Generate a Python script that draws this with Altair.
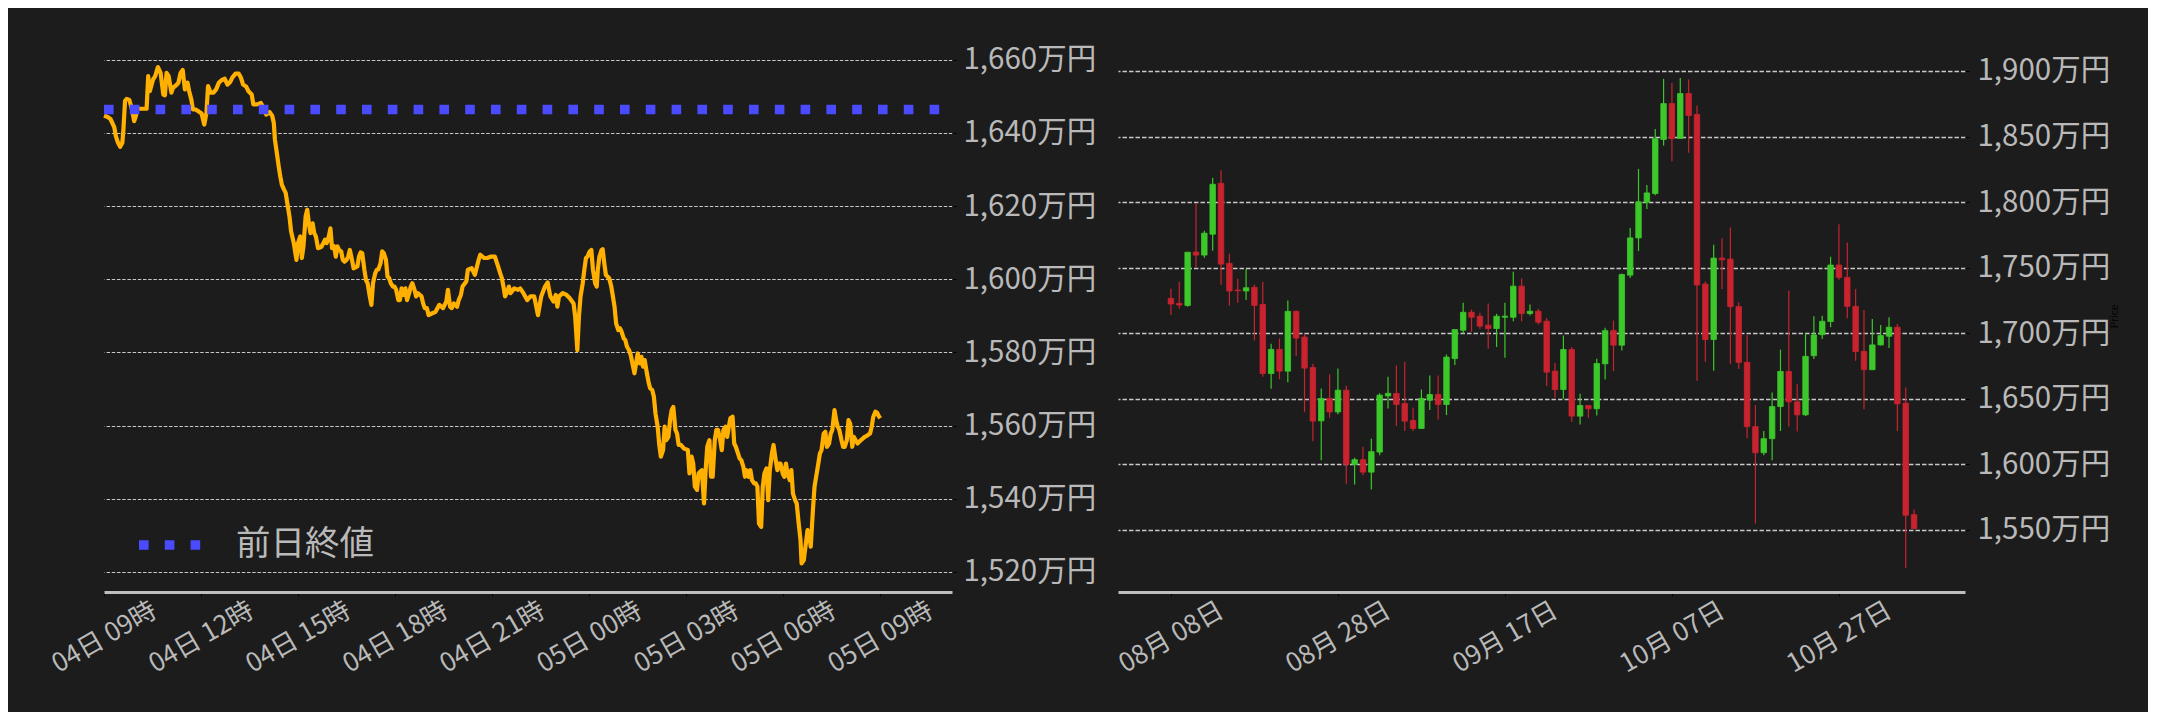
import altair as alt
import pandas as pd

FONT = "Noto Sans CJK JP"
BG = "#1c1c1c"
TXT = "#b9b9b9"

# ---------------- intraday (04日 09時 -> 05日 09時), minutes from 04日 09:00 ----------------
intraday_minutes = [
    0, 6, 12, 19, 22, 26, 30, 34, 36, 39, 42, 47, 52, 56, 59, 62, 69, 79, 82, 85, 91, 95, 100, 105, 110, 113,
    116, 120, 125, 128, 135, 138, 142, 146, 150, 155, 158, 162, 165, 170, 175, 181, 186, 190, 193, 198, 203,
    208, 213, 218, 224, 229, 234, 238, 244, 250, 254, 258, 264, 268, 274, 277, 284, 291, 295, 301, 307, 312,
    315, 317, 321, 324, 327, 330, 334, 337, 340, 344, 347, 352, 357, 360, 364, 367, 370, 374, 377, 380, 383,
    387, 390, 393, 397, 403, 407, 410, 413, 417, 420, 423, 427, 430, 433, 436, 440, 443, 446, 450, 453, 456,
    460, 463, 470, 473, 476, 479, 483, 486, 489, 493, 496, 499, 503, 506, 509, 513, 516, 519, 523, 526, 529,
    532, 536, 539, 542, 546, 549, 552, 556, 559, 562, 566, 569, 572, 576, 579, 582, 589, 592, 595, 599, 602,
    609, 615, 622, 629, 635, 638, 642, 645, 649, 655, 658, 662, 665, 672, 675, 682, 688, 695, 698, 705, 711,
    718, 725, 731, 735, 738, 741, 744, 748, 751, 754, 761, 768,
    772, 778, 785, 791, 798, 805, 811, 818, 823, 828, 834, 838, 841, 844, 851, 858, 864, 871, 874, 878, 881,
    884, 888, 891, 894, 897, 901, 904, 907, 911, 914, 916, 919, 923, 925, 928, 931, 934, 937, 941, 944, 947,
    950, 954, 957, 960, 964, 967, 970, 974, 977,
    984, 987, 990, 994, 997, 1000, 1003, 1007, 1010, 1013, 1017, 1020, 1023, 1027, 1030, 1033, 1037, 1040,
    1043, 1047, 1050, 1053, 1056, 1060, 1063, 1066, 1070, 1076, 1083, 1086, 1090, 1093, 1096, 1100, 1103,
    1106, 1109, 1113, 1116, 1119, 1123, 1126, 1129, 1133, 1136, 1139, 1143, 1146, 1149, 1153, 1156, 1159,
    1162, 1166, 1169, 1172, 1176, 1179, 1182, 1186, 1189, 1192, 1196, 1199, 1202, 1206, 1209, 1212, 1215,
    1219, 1222, 1225, 1229, 1232, 1235, 1239, 1242, 1245, 1249, 1252, 1255, 1259, 1262, 1265, 1268, 1272,
    1275, 1278, 1282, 1285, 1288, 1292, 1294, 1298, 1302, 1305, 1308, 1311, 1315, 1318, 1321, 1325, 1328,
    1331, 1335, 1338, 1341, 1345, 1348, 1351, 1355, 1358, 1361, 1364, 1368, 1371, 1374, 1378, 1381, 1384,
    1388, 1391, 1394, 1398, 1401, 1404, 1408, 1411, 1414, 1417, 1421, 1424, 1427, 1431, 1434, 1437, 1440,
]
intraday_prices = [
    1644.7, 1644.4, 1643.8, 1641.6, 1639.1, 1637.3, 1636.2, 1637.3, 1640.9, 1648.7, 1649.3, 1649.0, 1646.4,
    1643.2, 1644.6, 1646.6, 1646.6, 1646.6, 1655.5, 1651.4, 1654.6, 1655.5, 1658.0, 1656.4, 1650.5, 1650.3,
    1656.4, 1655.5, 1651.0, 1652.3, 1653.2, 1653.7, 1656.4, 1657.2, 1651.9, 1653.7, 1651.4, 1649.1, 1646.4,
    1646.4, 1645.9, 1645.3, 1642.3, 1645.5, 1652.8, 1651.0, 1651.0, 1651.9, 1653.7, 1654.4, 1654.8, 1653.2,
    1653.9, 1655.1, 1656.2, 1656.2, 1655.1, 1653.2, 1652.6, 1651.4, 1650.5, 1647.8, 1647.8, 1648.2, 1647.1,
    1645.0, 1645.7, 1644.7, 1642.7, 1638.2, 1634.1, 1630.9, 1628.1, 1625.8, 1624.5, 1623.6, 1620.8, 1617.2,
    1613.1, 1609.9, 1605.3, 1609.9, 1611.7, 1605.8, 1609.0, 1617.2, 1619.0, 1615.3, 1612.6, 1615.3, 1612.6,
    1611.7, 1608.5, 1608.8, 1609.9, 1610.8, 1609.9, 1611.7, 1613.9, 1608.5, 1609.0, 1606.2, 1609.0, 1608.0,
    1607.6, 1605.3, 1604.8, 1605.3, 1606.2, 1608.0, 1605.3, 1603.0, 1603.5, 1606.2, 1607.3, 1607.1, 1602.6,
    1599.8, 1598.9, 1595.3, 1593.0, 1598.9, 1601.6, 1602.6, 1602.7, 1604.4, 1607.6, 1607.1, 1605.3, 1600.7,
    1600.3, 1598.9, 1598.0, 1598.0, 1597.1, 1594.3, 1594.3, 1597.5, 1595.7, 1597.5, 1594.3, 1596.2, 1598.0,
    1598.9, 1597.1, 1595.3, 1596.2, 1595.3, 1593.4, 1592.1, 1592.1, 1590.2, 1590.7, 1591.1, 1593.0, 1592.1,
    1593.9, 1597.1, 1592.5, 1592.1, 1593.4, 1592.5, 1594.3, 1595.7, 1598.0, 1599.4, 1602.6, 1603.0, 1601.2,
    1605.3, 1606.7, 1605.8, 1605.8, 1606.2, 1606.2, 1603.5, 1601.6, 1600.3, 1598.0, 1595.3, 1596.6, 1598.0,
    1596.2, 1597.5, 1597.1,
    1597.5, 1596.2, 1594.3, 1595.3, 1595.3, 1590.2, 1595.3, 1598.0, 1599.1, 1595.3, 1593.9, 1595.7, 1592.5,
    1595.3, 1596.2, 1595.7, 1594.8, 1593.4, 1589.8, 1580.6, 1589.8, 1595.3, 1598.9, 1602.6, 1605.8, 1606.2,
    1607.6, 1608.0, 1602.6, 1598.9, 1598.0, 1602.6, 1606.2, 1608.0, 1608.2, 1604.4, 1601.2, 1600.7, 1600.3,
    1598.0, 1595.3, 1592.5, 1587.9, 1586.1, 1586.6, 1585.7, 1583.8, 1583.4, 1581.6, 1580.6, 1579.3,
    1574.3, 1577.0, 1579.7, 1577.0, 1578.8, 1576.1, 1577.9, 1574.3, 1572.0, 1570.2, 1569.7, 1567.9, 1563.3,
    1559.7, 1554.7, 1551.5, 1553.3, 1559.7, 1556.0, 1556.9, 1561.5, 1564.2, 1565.1, 1558.8, 1557.8, 1554.7,
    1554.7, 1553.7, 1553.3, 1546.9, 1551.5, 1549.6, 1543.3, 1542.4, 1546.9, 1547.4, 1547.8, 1538.7, 1547.8,
    1554.2, 1556.0, 1546.0, 1546.0, 1556.0, 1558.8, 1558.8, 1556.0, 1553.3, 1558.8, 1559.7, 1556.9, 1559.7,
    1562.0, 1562.4, 1555.1, 1554.2, 1552.4, 1551.0, 1550.6, 1548.7, 1546.0, 1547.8, 1546.0, 1547.8, 1545.1,
    1544.2, 1544.2, 1543.3, 1533.2, 1532.3, 1543.3, 1546.9, 1548.3, 1539.6, 1547.8, 1552.4, 1554.7, 1551.5,
    1547.8, 1549.6, 1549.6, 1546.9, 1546.0, 1549.6, 1546.9, 1545.1, 1547.8, 1541.4, 1539.6, 1538.7, 1534.1,
    1528.7, 1522.3, 1523.2, 1527.8, 1531.4, 1530.5, 1526.9, 1536.9, 1543.3, 1546.0, 1549.6, 1552.4, 1553.3,
    1557.8, 1558.3, 1554.2, 1555.1, 1557.8, 1558.8, 1564.2, 1561.5, 1559.7, 1558.8, 1556.0, 1554.2, 1554.2,
    1556.0, 1561.5, 1560.6, 1554.2, 1556.9, 1556.0, 1555.1, 1555.6, 1556.0, 1556.5, 1556.9, 1557.1, 1557.4,
    1557.8, 1559.7, 1562.4, 1563.8, 1563.5, 1562.6, 1562.0,
]
prev_close_label = ["前日終値"]
prev_close_value = [1646.4]
left_y_ticks = [1520, 1540, 1560, 1580, 1600, 1620, 1640, 1660]
left_x_ticks = [(4, 9), (4, 12), (4, 15), (4, 18), (4, 21), (5, 0), (5, 3), (5, 6), (5, 9)]

# ---------------- daily candles from 2025-08-08 ----------------
candle_start = "2025-08-08"
opens = [1726.6, 1722.8, 1721.2, 1761.9, 1759.6, 1775.5, 1814.3, 1753.3, 1733.0, 1732.2,
         1735.0, 1722.0, 1669.3, 1687.7, 1671.1, 1716.7, 1697.1, 1673.9, 1633.2, 1650.3,
         1640.0, 1656.6, 1600.0, 1603.6, 1594.1, 1609.4, 1652.2, 1654.1, 1646.4, 1633.5,
         1627.4, 1649.0, 1653.3, 1645.7, 1680.7, 1702.3, 1716.0, 1713.0, 1706.1, 1703.6,
         1712.2, 1712.2, 1735.9, 1715.0, 1716.8, 1709.2, 1671.1, 1657.1, 1687.6, 1636.8,
         1644.9, 1642.4, 1676.7, 1702.0, 1690.9, 1744.3, 1772.7, 1799.9, 1806.5, 1847.7,
         1875.1, 1848.5, 1882.8, 1866.8, 1737.5, 1695.2, 1757.3, 1756.5, 1720.3, 1677.8,
         1628.8, 1608.9, 1619.6, 1644.1, 1670.9, 1647.7, 1637.8, 1682.9, 1698.9, 1708.9,
         1752.0, 1742.6, 1720.5, 1686.2, 1672.2, 1691.1, 1697.7, 1704.6, 1646.7, 1561.7]
highs = [1734.0, 1739.3, 1762.0, 1799.1, 1778.1, 1818.6, 1824.2, 1760.7, 1741.6, 1749.0,
         1737.0, 1739.3, 1692.0, 1696.0, 1725.0, 1717.4, 1699.6, 1676.7, 1657.9, 1668.6,
         1673.2, 1660.0, 1605.1, 1613.5, 1619.6, 1654.3, 1666.8, 1675.4, 1678.2, 1643.1,
         1657.1, 1667.8, 1667.8, 1683.8, 1702.8, 1723.2, 1718.1, 1715.6, 1722.7, 1714.8,
         1723.2, 1746.8, 1741.7, 1721.9, 1718.6, 1711.7, 1677.4, 1698.3, 1689.6, 1653.8,
         1644.9, 1680.5, 1704.1, 1709.7, 1745.5, 1780.3, 1825.3, 1813.1, 1855.8, 1893.9,
         1890.9, 1894.7, 1893.4, 1873.6, 1739.5, 1767.4, 1772.5, 1780.6, 1723.6, 1698.5,
         1645.2, 1625.5, 1654.8, 1687.5, 1732.4, 1661.2, 1700.3, 1712.9, 1713.4, 1758.3,
         1783.2, 1769.2, 1733.7, 1717.7, 1710.9, 1706.3, 1712.2, 1707.1, 1658.7, 1565.6]
lows = [1714.0, 1718.7, 1720.2, 1750.2, 1757.5, 1762.9, 1737.0, 1721.0, 1723.3, 1725.3,
        1694.5, 1666.8, 1657.6, 1665.0, 1662.7, 1682.6, 1639.8, 1617.7, 1603.1, 1635.6,
        1638.3, 1585.2, 1584.7, 1591.8, 1580.9, 1606.9, 1642.6, 1629.2, 1625.4, 1625.4,
        1627.4, 1641.4, 1634.3, 1637.6, 1675.7, 1699.8, 1701.1, 1703.4, 1688.1, 1689.6,
        1681.3, 1709.2, 1709.2, 1713.5, 1706.7, 1659.7, 1650.8, 1650.0, 1632.5, 1630.4,
        1635.5, 1637.3, 1664.7, 1671.1, 1686.8, 1742.2, 1762.6, 1794.8, 1805.2, 1843.1,
        1831.1, 1848.5, 1837.6, 1663.8, 1678.3, 1671.4, 1733.7, 1676.5, 1672.7, 1619.9,
        1554.8, 1606.9, 1603.1, 1625.5, 1628.8, 1625.0, 1637.0, 1680.4, 1695.7, 1704.6,
        1740.8, 1711.4, 1679.0, 1642.1, 1672.2, 1690.6, 1688.8, 1625.5, 1520.9, 1551.0]
closes = [1722.3, 1721.5, 1761.8, 1759.6, 1776.3, 1813.6, 1752.7, 1732.2, 1732.4, 1734.7,
          1721.2, 1669.3, 1687.7, 1671.1, 1716.7, 1696.3, 1673.4, 1633.0, 1650.3, 1640.0,
          1656.6, 1600.0, 1603.6, 1594.1, 1609.7, 1652.8, 1654.2, 1645.7, 1633.0, 1627.4,
          1650.3, 1653.3, 1645.7, 1681.8, 1702.8, 1716.0, 1712.2, 1705.4, 1703.6, 1713.0,
          1713.0, 1735.9, 1715.0, 1716.8, 1708.4, 1670.3, 1657.1, 1687.6, 1636.8, 1644.9,
          1642.4, 1676.9, 1702.0, 1690.9, 1744.8, 1772.7, 1800.2, 1807.0, 1848.4, 1875.1,
          1848.4, 1882.8, 1866.0, 1736.8, 1695.2, 1757.3, 1756.0, 1720.3, 1677.8, 1628.8,
          1608.9, 1619.6, 1644.1, 1670.9, 1647.7, 1637.8, 1682.4, 1698.7, 1709.1, 1752.0,
          1742.6, 1720.5, 1686.0, 1672.2, 1691.1, 1698.2, 1704.6, 1646.2, 1561.2, 1551.0]
right_y_ticks = [1550, 1600, 1650, 1700, 1750, 1800, 1850, 1900]
right_x_ticks = [(8, 8), (8, 28), (9, 17), (10, 7), (10, 27)]

# ---------------- tables ----------------
base_time = pd.Timestamp("2025-11-04 09:00")
left_df = pd.DataFrame({
    "time": [(base_time + pd.Timedelta(minutes=m)).strftime("%Y-%m-%dT%H:%M:%SZ") for m in intraday_minutes],
    "price": intraday_prices,
})
prev_df = pd.DataFrame({"label": prev_close_label, "value": prev_close_value})

cdates = pd.date_range(candle_start, periods=len(opens), freq="D")
candle_df = pd.DataFrame({
    "date": [d.strftime("%Y-%m-%dT00:00:00Z") for d in cdates],
    "open": opens, "high": highs, "low": lows, "close": closes,
})
candle_df["dir"] = ["up" if c >= o else "down" for o, c in zip(opens, closes)]


def dt(month, day, hour=0, minute=0):
    return alt.DateTime(year=2025, month=month, date=day, hours=hour, minutes=minute, utc=True)


label_expr = "format(datum.value, ',') + '万円'"

# ---------------- left chart ----------------
lx = alt.X(
    "time:T",
    title=None,
    scale=alt.Scale(type="utc", domain=[dt(11, 4, 9, 0), dt(11, 5, 11, 13)]),
    axis=alt.Axis(
        values=[dt(11, d, h) for d, h in left_x_ticks], format="%d日 %H時",
        labelAngle=330, labelAlign="center", labelBaseline="middle", labelPadding=41,
        labelFontSize=26, labelColor=TXT, labelFont=FONT,
        domain=True, domainColor="#bebebe", domainWidth=3,
        ticks=True, tickColor="#000000", tickSize=4, grid=False, labelOverlap=False,
    ),
)
ly = alt.Y(
    "price:Q",
    title=None,
    scale=alt.Scale(domain=[1514.5, 1665.4], nice=False, zero=False),
    axis=alt.Axis(
        orient="right", values=left_y_ticks, labelExpr=label_expr,
        labelFontSize=29.5, labelColor=TXT, labelFont=FONT, labelPadding=7,
        domain=False, tickColor="#000000", tickSize=4,
        grid=True, gridColor="#c8c8c8", gridDash=[3.5, 1.7], gridWidth=1, labelOverlap=False,
    ),
)
line = alt.Chart(left_df).mark_line(color="#ffb000", strokeWidth=4.2, strokeJoin="round").encode(x=lx, y=ly)
prev = alt.Chart(prev_df).mark_rule(
    strokeWidth=9.6, strokeDash=[9.6, 16.2], strokeDashOffset=13, strokeCap="butt"
).encode(
    y=alt.Y("value:Q"),
    color=alt.Color(
        "label:N",
        scale=alt.Scale(range=["#4a4aff"]),
        legend=alt.Legend(
            title=None, orient="none", legendX=30, legendY=469,
            symbolType="stroke", symbolSize=3844, symbolStrokeWidth=9.6, symbolDash=[9.6, 16.2],
            labelFontSize=34.5, labelColor=TXT, labelFont=FONT, labelOffset=30,
        ),
    ),
)
left = alt.layer(line, prev).properties(width=848, height=552)

# ---------------- right chart ----------------
rx = alt.X(
    "date:T",
    title=None,
    scale=alt.Scale(type="utc", domain=[dt(8, 2, 6, 14), dt(11, 10, 12, 0)]),
    axis=alt.Axis(
        values=[dt(m, d) for m, d in right_x_ticks], format="%m月 %d日",
        labelAngle=330, labelAlign="center", labelBaseline="middle", labelPadding=41,
        labelFontSize=26, labelColor=TXT, labelFont=FONT,
        domain=True, domainColor="#bebebe", domainWidth=3,
        ticks=True, tickColor="#000000", tickSize=4, grid=False, labelOverlap=False,
    ),
)
ry_axis = alt.Axis(
    orient="right", values=right_y_ticks, labelExpr=label_expr,
    labelFontSize=29.5, labelColor=TXT, labelFont=FONT, labelPadding=8,
    domain=False, tickColor="#000000", tickSize=4,
    grid=True, gridColor="#c8c8c8", gridDash=[4.5, 2], gridWidth=1.3, labelOverlap=False,
    title="Price", titleColor="#000000", titleFontSize=10, titleFontWeight="normal",
    titleAngle=270, titlePadding=10, titleFont=FONT,
)
ry_scale = alt.Scale(domain=[1502.7, 1923.6], nice=False, zero=False)
cscale = alt.Scale(domain=["up", "down"], range=["#3cc82a", "#c8232f"])

wick = alt.Chart(candle_df).mark_rule(strokeWidth=1.2).encode(
    x=rx,
    y=alt.Y("low:Q", scale=ry_scale, axis=ry_axis),
    y2="high:Q",
    color=alt.Color("dir:N", scale=cscale, legend=None),
)
body = alt.Chart(candle_df).mark_bar(width=5.5, strokeWidth=0.8).encode(
    x=rx,
    y=alt.Y("open:Q", scale=ry_scale, axis=ry_axis),
    y2="close:Q",
    color=alt.Color("dir:N", scale=cscale, legend=None),
    stroke=alt.Stroke("dir:N", scale=cscale, legend=None),
)
right = alt.layer(wick, body).properties(width=847, height=552)

chart = alt.hconcat(left, right, spacing=166, bounds="flush").resolve_scale(color="independent").properties(
    padding={"left": 39, "top": 32, "right": 28, "bottom": 34},
    background=BG,
).configure_view(stroke=None)

chart.save("out.html", embed_options={"renderer": "svg", "actions": False})
